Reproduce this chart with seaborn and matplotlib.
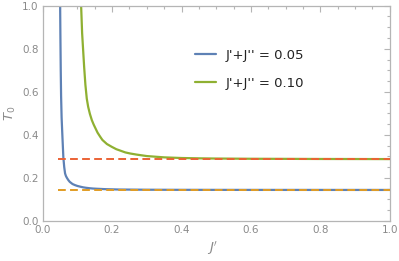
import matplotlib
matplotlib.use("Agg")
import matplotlib.pyplot as plt
import seaborn as sns
import pandas as pd
from matplotlib.ticker import MultipleLocator, FormatStrFormatter

# values
blue_x = [0.0500, 0.0510, 0.0520, 0.0530, 0.0545, 0.0566, 0.0595, 0.0620, 0.0645, 0.0670,
          0.0700, 0.0740, 0.0780, 0.0860, 0.0930, 0.1000, 0.1100, 0.1170, 0.1250, 0.1350,
          0.1450, 0.1560, 0.1800, 0.2200, 0.3000, 0.4000, 0.6000, 0.8000, 1.0000]
blue_y = [1.0500, 0.8600, 0.7000, 0.5800, 0.4800, 0.4000, 0.2950, 0.2500, 0.2200, 0.2080,
          0.1990, 0.1890, 0.1810, 0.1710, 0.1660, 0.1620, 0.1580, 0.1555, 0.1535, 0.1515,
          0.1500, 0.1490, 0.1472, 0.1455, 0.1445, 0.1440, 0.1437, 0.1436, 0.1435]
green_x = [0.1100, 0.1107, 0.1136, 0.1194, 0.1230, 0.1270, 0.1310, 0.1360, 0.1416, 0.1470,
           0.1580, 0.1656, 0.1720, 0.1850, 0.1990, 0.2120, 0.2380, 0.2520, 0.2700, 0.3000,
           0.3250, 0.3500, 0.4000, 0.4500, 0.5000, 0.6000, 0.8000, 1.0000]
green_y = [1.0300, 1.0000, 0.8720, 0.7160, 0.6330, 0.5680, 0.5300, 0.4970, 0.4680, 0.4470,
           0.4100, 0.3910, 0.3760, 0.3570, 0.3440, 0.3330, 0.3180, 0.3130, 0.3080, 0.3010,
           0.2980, 0.2950, 0.2920, 0.2905, 0.2895, 0.2885, 0.2875, 0.2870]
series_labels = ["J'+J'' = 0.05", "J'+J'' = 0.10"]
asym_x = [0.045, 1.0]
asym_hi = [0.287, 0.287]
asym_lo = [0.1435, 0.1435]

df = pd.concat([
    pd.DataFrame({"x": blue_x, "y": blue_y, "s": series_labels[0]}),
    pd.DataFrame({"x": green_x, "y": green_y, "s": series_labels[1]}),
])

BLUE = "#5E81B5"
GREEN = "#8FB032"
ORANGE = "#E19C24"
RED = "#EB6235"
GRAY = "#8a8a8a"

sns.set_style("white")
fig = plt.figure(figsize=(3.99, 2.61), dpi=100)
ax = fig.add_axes([0.107, 0.154, 0.870, 0.824])

sns.lineplot(data=df, x="x", y="y", hue="s", palette=[BLUE, GREEN], sort=False,
             estimator=None, linewidth=1.6, ax=ax)
ax.plot(asym_x, asym_hi, color=RED, lw=1.4, dashes=(4, 2.2), zorder=5)
ax.plot(asym_x, asym_lo, color=ORANGE, lw=1.4, dashes=(4, 2.2), zorder=5)

ax.set_xlim(0, 1)
ax.set_ylim(0, 1)
ax.xaxis.set_major_locator(MultipleLocator(0.2))
ax.xaxis.set_minor_locator(MultipleLocator(0.05))
ax.yaxis.set_major_locator(MultipleLocator(0.2))
ax.yaxis.set_minor_locator(MultipleLocator(0.05))
ax.xaxis.set_major_formatter(FormatStrFormatter("%.1f"))
ax.yaxis.set_major_formatter(FormatStrFormatter("%.1f"))
ax.tick_params(which="both", direction="in", top=True, right=True, color="#b5b5b5",
               labelcolor=GRAY, labelsize=7.5, width=0.8)
ax.tick_params(which="major", length=4, pad=3)
ax.tick_params(which="minor", length=2.2)
for sp in ax.spines.values():
    sp.set_color("#b5b5b5")
    sp.set_linewidth(0.9)

ax.set_xlabel("$J'$", color=GRAY, fontsize=9.5)
ax.set_ylabel("$T_0$", color=GRAY, fontsize=9.5)
ax.xaxis.set_label_coords(0.49, -0.127)
ax.yaxis.set_label_coords(-0.094, 0.5)
ax.xaxis.label.set_va("center")
ax.yaxis.label.set_va("center")

leg = ax.legend(frameon=False, loc="upper left", bbox_to_anchor=(0.417, 0.836),
                fontsize=9.5, handlelength=1.6, handletextpad=0.7, labelspacing=1.15,
                borderaxespad=0.2)
for t in leg.get_texts():
    t.set_color("#222222")
for l in leg.get_lines():
    l.set_linewidth(1.6)

fig.savefig("out.png", dpi=100)
